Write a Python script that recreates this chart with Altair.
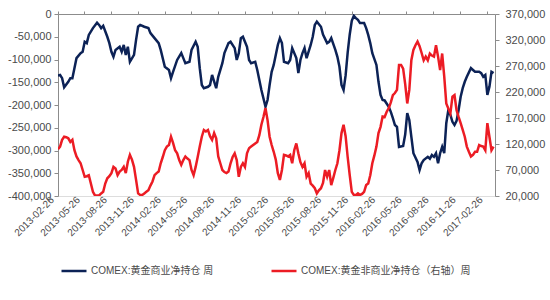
import altair as alt
import pandas as pd

# ---------------- data ----------------
START = "2013-02-26"
S1 = "COMEX:黄金商业净持仓 周"
S2 = "COMEX:黄金非商业净持仓（右轴）周"

tick_labels = ["2013-02-26", "2013-05-26", "2013-08-26", "2013-11-26",
               "2014-02-26", "2014-05-26", "2014-08-26", "2014-11-26",
               "2015-02-26", "2015-05-26", "2015-08-26", "2015-11-26",
               "2016-02-26", "2016-05-26", "2016-08-26", "2016-11-26",
               "2017-02-26"]
x_end = "2017-03-26"

# commercial net position (left axis), week number since START, value in thousands
blue_weeks = [0, 1, 2, 3, 5, 6, 7, 8, 9, 11, 12, 13, 14, 15, 17, 19, 20, 21, 22, 24,
              25, 26, 27, 28, 30, 31, 32, 33, 34, 35, 37, 38, 39, 40, 42, 44, 45, 47, 49, 50,
              52, 54, 55, 56, 58, 60, 61, 62, 64, 65, 67, 68, 69, 70, 71, 73, 74, 75, 77, 78,
              80, 81, 83, 84, 86, 87, 88, 89, 90, 91, 92, 93, 94, 96, 97, 98, 99, 101, 102, 103,
              104, 105, 106, 107, 108, 109, 110, 112, 113, 114, 116, 117, 118, 119, 120, 121, 123, 124, 125, 126,
              128, 129, 131, 132, 133, 135, 136, 137, 138, 139, 140, 141, 142, 143, 144, 145, 146, 147, 149, 150,
              151, 152, 153, 155, 156, 157, 158, 159, 161, 162, 163, 164, 165, 166, 168, 169, 170, 171, 172, 173,
              175, 176, 177, 178, 180, 181, 182, 183, 184, 185, 186, 187, 188, 189, 190, 191, 192, 193, 194, 195,
              196, 197, 198, 199, 201, 202, 203, 205, 206, 207, 208, 209, 210, 211, 212]
blue_k = [-135, -134, -141, -161, -149, -141, -141, -119, -97, -86, -83, -61, -64, -46, -31, -19, -24, -31, -26, -50,
          -64, -83, -94, -79, -72, -83, -68, -90, -72, -105, -90, -57, -28, -24, -28, -31, -42, -53, -64, -79,
          -116, -123, -141, -127, -101, -86, -97, -108, -105, -79, -61, -72, -119, -156, -163, -160, -156, -134, -163, -138,
          -108, -86, -64, -61, -75, -101, -86, -53, -50, -61, -72, -101, -108, -105, -123, -145, -167, -204, -189, -156,
          -127, -112, -90, -68, -53, -64, -105, -108, -101, -75, -97, -130, -101, -86, -75, -97, -68, -50, -24, -17,
          -28, -45, -64, -61, -53, -79, -94, -116, -156, -167, -135, -85, -45, -15, -4, -9, -13, -20, -20, -31,
          -46, -64, -86, -112, -149, -178, -189, -190, -204, -215, -229, -244, -248, -292, -290, -265, -218, -233, -270, -306,
          -325, -343, -328, -321, -314, -318, -310, -314, -306, -328, -306, -292, -306, -240, -211, -222, -237, -244, -235, -211,
          -182, -163, -149, -138, -119, -123, -127, -127, -130, -138, -134, -178, -160, -127, -130]

# non-commercial net position (right axis), weekly from START, value in thousands
red_k = [110, 115, 128, 134, 133, 131, 124, 128, 108, 96, 89, 83, 70, 57, 58, 60, 44, 28, 21, 21,
         21, 25, 28, 44, 54, 58, 64, 76, 73, 60, 67, 70, 76, 64, 86, 99, 90, 76, 51, 25,
         22, 22, 25, 28, 31, 40, 48, 60, 64, 67, 83, 95, 108, 115, 118, 134, 122, 108, 102, 89,
         80, 89, 96, 92, 89, 70, 60, 76, 95, 115, 134, 147, 144, 147, 135, 128, 141, 131, 96, 83,
         70, 66, 64, 67, 83, 95, 102, 89, 57, 76, 83, 76, 102, 112, 115, 118, 121, 124, 137, 157,
         172, 189, 166, 134, 118, 105, 90, 64, 51, 70, 99, 98, 96, 99, 83, 108, 121, 102, 85, 76,
         83, 57, 64, 44, 40, 35, 25, 31, 35, 45, 70, 57, 70, 41, 55, 70, 83, 108, 141, 157,
         135, 95, 60, 28, 22, 22, 25, 22, 24, 28, 41, 44, 60, 83, 98, 115, 141, 153, 173, 172,
         182, 189, 200, 214, 218, 224, 272, 272, 265, 235, 198, 224, 281, 301, 310, 317, 308, 295, 281, 288,
         281, 294, 290, 288, 310, 288, 262, 294, 250, 198, 188, 179, 211, 214, 185, 172, 160, 147, 134, 115,
         105, 96, 99, 105, 105, 118, 116, 115, 108, 160, 134, 108, 115]

left_ticks = [-400000, -350000, -300000, -250000, -200000, -150000, -100000, -50000, 0]
right_ticks = [20000, 70000, 120000, 170000, 220000, 270000, 320000, 370000]

# ---------------- styles ----------------
BLUE = "#0c2256"
RED = "#ec1c24"
AX = "#8c8c8c"
TXT = "#4a4a4a"
FONT = "Liberation Sans, Noto Sans CJK SC"

start = pd.Timestamp(START)
blue_df = pd.DataFrame({
    "date": start + pd.to_timedelta([7 * w for w in blue_weeks], unit="D"),
    "v": [v * 1000 for v in blue_k],
    "series": S1,
})
red_df = pd.DataFrame({
    "date": start + pd.to_timedelta([7 * w for w in range(len(red_k))], unit="D"),
    "v": [v * 1000 for v in red_k],
    "series": S2,
})


def dt(s):
    y, m, d = map(int, s.split("-"))
    return alt.DateTime(year=y, month=m, date=d)


tick_values = [dt(s) for s in tick_labels]
x_scale = alt.Scale(domain=[dt(START), dt(x_end)])
color_scale = alt.Scale(domain=[S1, S2], range=[BLUE, RED])
legend = alt.Legend(orient="none", legendX=2, legendY=243, direction="horizontal", title=None,
                    symbolType="stroke", symbolSize=625, symbolStrokeWidth=2.5,
                    labelFont=FONT, labelFontSize=10, labelColor=TXT, labelOffset=3,
                    labelLimit=400, columnPadding=52, padding=0)

num_expr = "(datum.value < 0 ? '-' : '') + format(abs(datum.value), ',')"

blue = alt.Chart(blue_df).mark_line(strokeWidth=2.5, clip=True).encode(
    x=alt.X("date:T", scale=x_scale,
            axis=alt.Axis(orient="top", values=tick_values, labels=False, ticks=True, tickSize=3,
                          domain=True, domainColor=AX, tickColor=AX, grid=False, title=None)),
    y=alt.Y("v:Q", scale=alt.Scale(domain=[-400000, 0], nice=False, zero=False),
            axis=alt.Axis(orient="left", values=left_ticks, labelExpr=num_expr, title=None, grid=False,
                          domainColor=AX, tickColor=AX, tickSize=4, labelFont=FONT, labelFontSize=11,
                          labelColor=TXT, labelPadding=3)),
    color=alt.Color("series:N", scale=color_scale, legend=legend),
)

red = alt.Chart(red_df).mark_line(strokeWidth=2.5, clip=True).encode(
    x=alt.X("date:T", scale=x_scale,
            axis=alt.Axis(orient="bottom", values=tick_values, format="%Y-%m-%d", labelAngle=-45,
                          labelAlign="right", labelBaseline="middle", labelOffset=-6, labelPadding=2,
                          domain=False, ticks=False, grid=False, title=None, labelFont=FONT,
                          labelFontSize=10, labelColor=TXT, labelOverlap=False)),
    y=alt.Y("v:Q", scale=alt.Scale(domain=[20000, 370000], nice=False, zero=False),
            axis=alt.Axis(orient="right", values=right_ticks, labelExpr=num_expr, title=None, grid=False,
                          domainColor=AX, tickColor=AX, tickSize=4, labelFont=FONT, labelFontSize=11,
                          labelColor=TXT, labelPadding=6)),
    color=alt.Color("series:N", scale=color_scale, legend=legend),
)

chart = alt.layer(blue, red).resolve_scale(y="independent").resolve_axis(x="independent").properties(
    width=437, height=182,
    autosize=alt.AutoSizeParams(type="none"),
    padding={"left": 58, "top": 14, "right": 55, "bottom": 104},
).configure_view(stroke=None).configure(background="white")

chart.save("out.html", embed_options={"renderer": "svg", "actions": False})
